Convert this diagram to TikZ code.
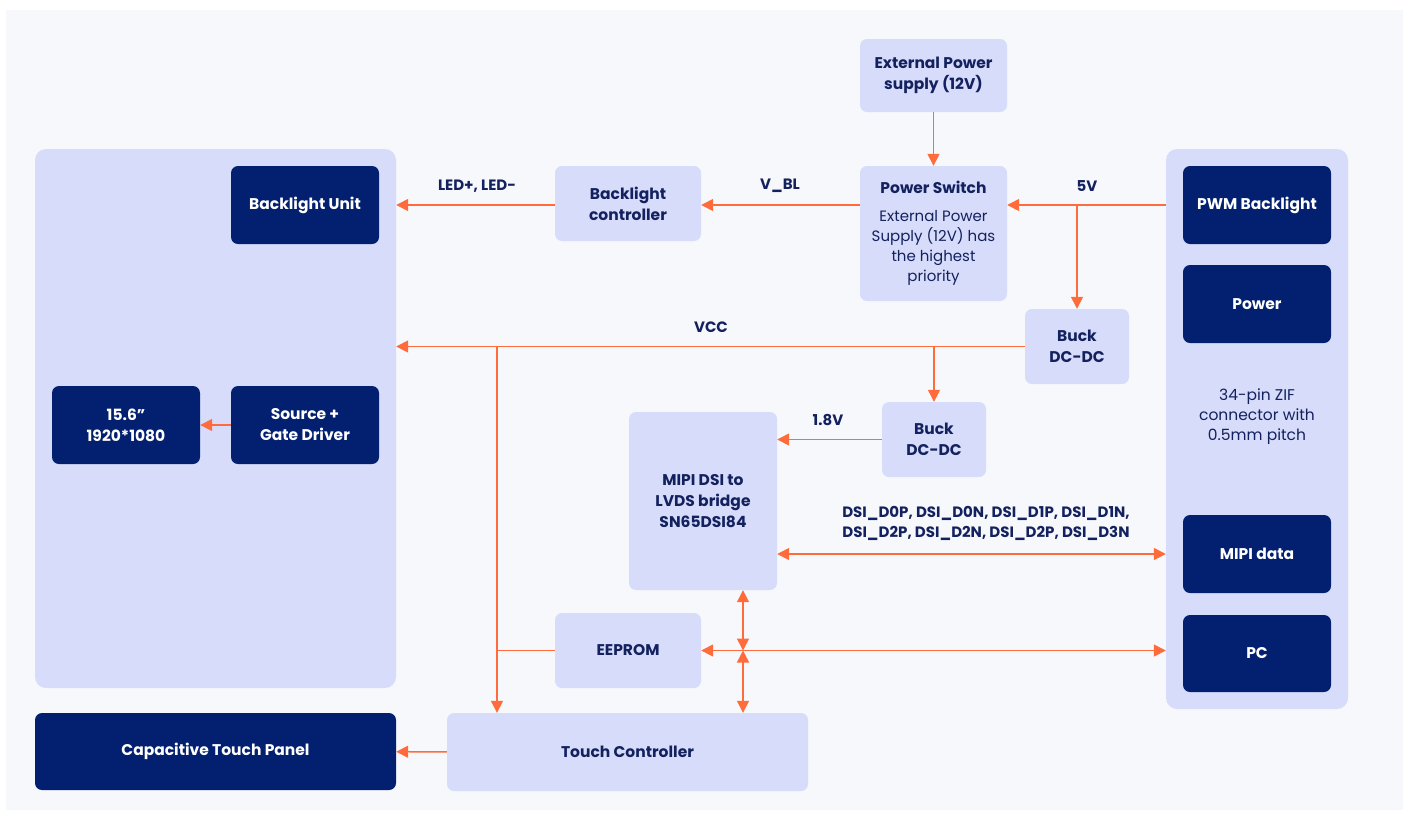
\documentclass[tikz,border=0pt]{standalone}
\usepackage{fontspec}
\setmainfont{Poppins}
\usetikzlibrary{arrows.meta, positioning}

\definecolor{pagebg}{HTML}{F7F8FC}
\definecolor{lavender}{HTML}{D8DCFB}
\definecolor{navy}{HTML}{02206F}
\definecolor{ink}{HTML}{13225E}
\definecolor{wire}{HTML}{FF6B3A}

\tikzset{
  panel/.style={fill=lavender, rounded corners=11pt, inner sep=0pt},
  lightbox/.style={fill=lavender, rounded corners=7pt, text=ink, align=center, inner sep=0pt,
    font=\fontsize{15.5}{21}\selectfont\bfseries},
  darkbox/.style={fill=navy, rounded corners=7pt, text=white, align=center, inner sep=0pt,
    font=\fontsize{15.5}{21}\selectfont\bfseries},
  wirelabel/.style={text=ink, align=center, font=\fontsize{15}{20}\selectfont\bfseries},
  plainline/.style={draw=wire, line width=1.5pt},
  feed/.style={plainline, -{Triangle[length=12pt,width=12pt]}},
  bus/.style={plainline, {Triangle[length=12pt,width=12pt]}-{Triangle[length=12pt,width=12pt]}}
}

\begin{document}
\begin{tikzpicture}[x=1pt, y=-1pt]
\useasboundingbox (0,0) rectangle (1407,820);
\fill[white] (0,0) rectangle (1407,820);
\fill[pagebg] (6,10) rectangle (1403,810);

% display side
\node (display) [panel, minimum width=361pt, minimum height=539pt] at (215.5,418.5) {};
\node (blu) [darkbox, minimum width=148pt, minimum height=78pt] at (305,205) {Backlight Unit};
\node (res) [darkbox, minimum width=148pt, minimum height=78pt] at (126,425) {15.6\char"201D\\1920*1080};
\node (gate) [darkbox, minimum width=148pt, minimum height=78pt] at (305,425) {Source +\\Gate Driver};
\node (ctp) [darkbox, minimum width=361pt, minimum height=77pt] at (215.5,751.5) {Capacitive Touch Panel};

% connector side
\node (conn) [panel, minimum width=182pt, minimum height=560pt] at (1257,429) {};
\node (pwm) [darkbox, minimum width=148pt, minimum height=78pt] at (1257,205) {PWM Backlight};
\node (pwr) [darkbox, minimum width=148pt, minimum height=78pt] at (1257,304) {Power};
\node (zif) [text=ink, align=center, font=\fontsize{15.5}{20}\selectfont] at (1257,417) {34-pin ZIF\\connector with\\0.5mm pitch};
\node (mipi) [darkbox, minimum width=148pt, minimum height=78pt] at (1257,554) {MIPI data};
\node (pc) [darkbox, minimum width=148pt, minimum height=77pt] at (1257,653.5) {PC};

% board blocks
\node (ext) [lightbox, minimum width=147pt, minimum height=73pt] at (933.5,75.5) {External Power\\supply (12V)};
\node (psw) [lightbox, font=\fontsize{15}{20}\selectfont, minimum width=147pt, minimum height=135pt] at (933.5,233.5)
  {\textbf{\fontsize{15.5}{20}\selectfont Power Switch}\\[8pt]External Power\\Supply (12V) has\\the highest\\priority};
\node (blc) [lightbox, minimum width=146pt, minimum height=75pt] at (628,203.5) {Backlight\\controller};
\node (buckA) [lightbox, minimum width=104pt, minimum height=75pt] at (1077,346.5) {Buck\\DC-DC};
\node (buckB) [lightbox, minimum width=104pt, minimum height=75pt] at (934,439.5) {Buck\\DC-DC};
\node (bridge) [lightbox, minimum width=148pt, minimum height=178pt] at (703,501) {MIPI DSI to\\LVDS bridge\\SN65DSI84};
\node (eeprom) [lightbox, minimum width=146pt, minimum height=75pt] at (628,650.5) {EEPROM};
\node (touch) [lightbox, minimum width=361pt, minimum height=78pt] at (627.5,752) {Touch Controller};

\coordinate (fivev) at (buckA.north |- pwm);
\coordinate (vcctap) at (497,346.5);
\coordinate (i2c) at (743,650.5);

% power
\draw[feed] (ext) -- (psw);
\draw[feed] (pwm -| conn.west) -- (pwm -| psw.east);
\draw[feed] (fivev) -- (buckA.north);
\draw[feed] (pwm -| psw.west) -- (pwm -| blc.east);
\draw[feed] (pwm -| blc.west) -- (pwm -| display.east);
\draw[feed] (buckA.west) -- (buckA.west -| display.east);
\draw[feed] (buckB.north |- buckA.west) -- (buckB.north);
\draw[feed] (vcctap) -- (vcctap |- touch.north);
\draw[plainline] (eeprom.west) -- (eeprom.west -| vcctap);
\draw[feed] (buckB.west) -- (buckB.west -| bridge.east);

% data
\draw[bus] (bridge.east |- mipi) -- (conn.west |- mipi);
\draw[bus] (eeprom.east) -- (conn.west |- eeprom.east);
\draw[bus] (i2c |- bridge.south) -- (i2c);
\draw[bus] (i2c) -- (i2c |- touch.north);
\draw[feed] (gate) -- (res);
\draw[feed] (touch) -- (ctp);

% labels
\node (l5v) [wirelabel] at (1087,186) {5V};
\node (lvbl) [wirelabel] at (780,186) {V\_BL};
\node (lled) [wirelabel] at (477,186) {LED+, LED-};
\node (lvcc) [wirelabel] at (711,327) {VCC};
\node (l18) [wirelabel] at (828,420) {1.8V};
\node (ldsi) [wirelabel] at (986,523) {DSI\_D0P, DSI\_D0N, DSI\_D1P, DSI\_D1N,\\DSI\_D2P, DSI\_D2N, DSI\_D2P, DSI\_D3N};
\end{tikzpicture}
\end{document}
